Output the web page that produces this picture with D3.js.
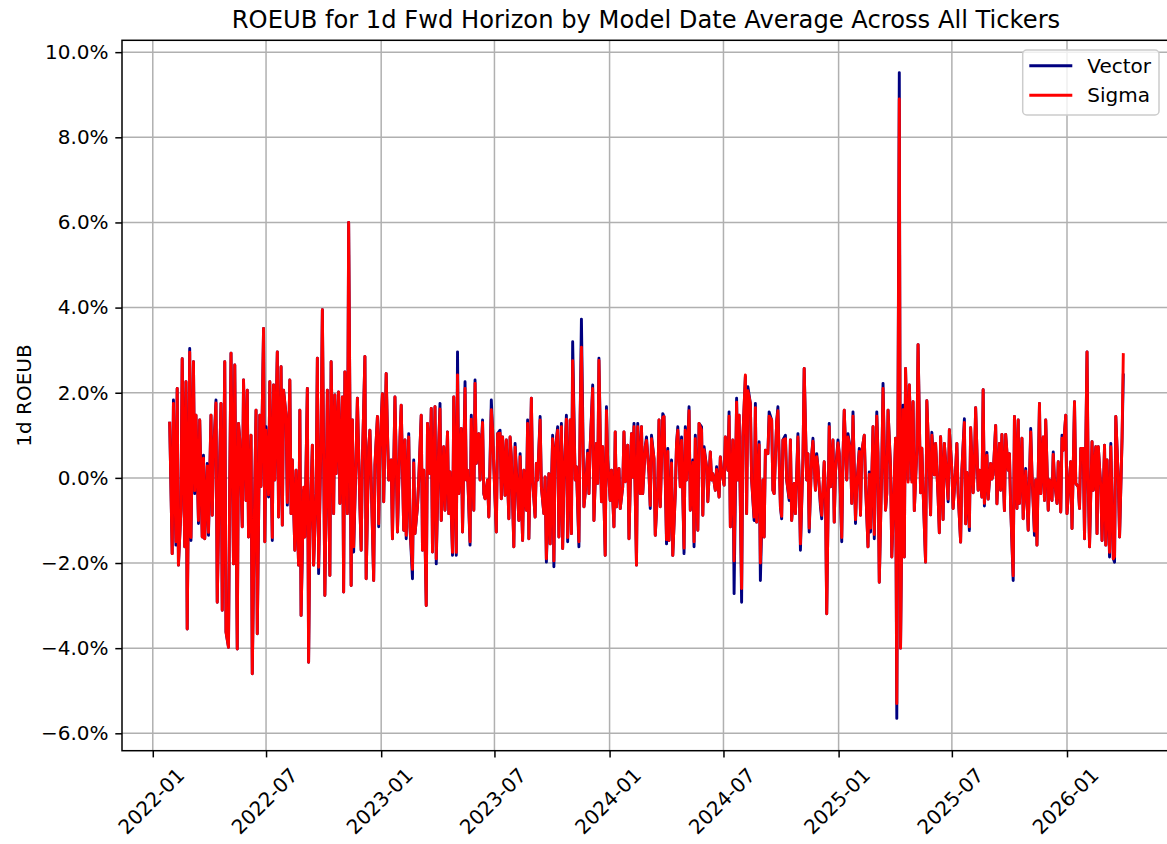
<!DOCTYPE html>
<html>
<head>
<meta charset="utf-8">
<script src="https://cdn.jsdelivr.net/npm/d3@7"></script>
<style>
  body { margin: 0; background: #fff; }
  text { font-family: "DejaVu Sans", sans-serif; fill: #000; }
</style>
</head>
<body>
<div id="chart"></div>
<script>
// 1d ROEUB in percent, one value every 2 business days starting 2022-01-28
// Vector, in 8 stretches
var vector1 = [1.32,-1.78,1.83,-1.58,2.10,-2.05,-0.76,2.80,-1.62,2.26,-3.55,3.04,-1.47,2.73,-0.37,1.47,-1.07,1.36,-1.39,0.53,-1.43,0.34,-1.35,1.47,-0.88,0.55,1.83,-2.92,0.49,1.75,-3.11,2.73,-3.62,-3.98,-0.05,2.93,-2.02,2.65,-4.02,1.28,0.90,-1.15,2.30,-0.53,2.06,-1.39,1.00,-4.60,-0.21,1.59,-3.66,1.47,-0.20,3.51,-1.50,1.20,-0.45,2.26,-1.47,2.18,-0.05,2.96,-0.92,2.61,-1.11,2.06,1.47,-0.64,2.30,-0.84,0.42];
var vector2 = [-1.70,0.18,-2.05,1.59,-3.23,-0.29,-1.39,2.10,-4.33,-1.31,0.77,-2.05,-0.37,2.81,-2.25,1.12,3.95,-2.76,-0.53,2.06,-2.29,2.73,-0.84,1.95,0.10,2.02,-0.60,1.90,-2.68,2.49,-0.84,6.00,-2.53,1.36,-1.74,0.57,1.87,-0.68,-1.70,0.42,2.85,-2.37,0.73,1.12,-0.05,-2.41,0.30,1.44,-1.15,0.65,1.98,-0.56,2.45,1.08,-0.05,0.42,-1.43,1.90,0.45,-1.27,0.93,1.71,-1.23,0.89,-1.43,1.04,-1.15,-2.37,0.42,-1.31,-0.68];
var vector3 = [-0.05,1.47,-1.70,0.18,-3.00,1.28,0.10,1.63,-1.74,1.67,-2.02,0.81,1.75,-1.00,0.73,-0.76,1.08,-0.84,0.14,-1.82,1.90,-1.82,2.96,-0.37,1.16,-1.27,2.26,-0.05,0.18,-1.58,1.47,-0.76,2.30,0.34,1.04,-0.05,1.36,-0.37,-0.49,-0.05,-0.92,1.83,1.16,0.26,-1.27,1.04,1.12,-0.49,0.96,-0.41,0.89,-0.96,0.96,0.49,-1.62,0.81,-0.37,-1.00,0.57,-1.47,0.18,-0.76,1.36,-1.43,1.87,-0.05,-0.92,0.34,-0.05,1.44,-0.21];
var vector4 = [-0.84,0.02,-1.98,0.10,-1.55,1.00,-2.09,0.61,1.20,-1.39,1.28,-1.66,-0.05,1.47,-1.50,1.36,-1.31,3.20,-0.05,0.26,-1.62,1.47,3.73,-0.68,-0.37,0.65,-0.37,0.73,2.18,-1.00,0.81,-0.13,2.81,-0.56,0.73,-1.82,1.67,0.42,-0.53,0.18,-1.15,1.08,-0.68,0.22,-0.72,-0.21,1.08,-0.09,0.77,-1.43,1.04,0.02,1.28,-2.05,1.28,-0.37,1.20,-0.37,0.73,0.96,0.10,-0.72,1.00,0.45,-1.35,-0.21,1.36,-0.68,1.51,1.44,-1.55];
var vector5 = [0.69,-1.47,0.42,-1.82,-0.37,0.81,1.20,-0.21,0.96,-1.78,1.20,-0.05,1.67,-0.76,0.42,-1.62,1.00,-1.23,1.28,1.20,-0.88,0.73,0.26,-0.56,0.61,-0.05,0.10,-0.29,0.26,-0.45,0.49,0.18,-0.17,0.96,0.18,1.55,-1.15,0.89,-2.72,1.87,-0.05,1.47,-2.92,0.96,2.38,-0.84,2.14,1.75,-0.05,-1.00,1.75,-1.04,0.85,-2.41,-0.05,-1.39,0.65,0.57,1.55,1.36,-0.29,-0.37,1.32,1.67,-0.68,-0.96,0.89,1.00,-0.05,-0.53,0.89];
var vector6 = [-1.00,-0.13,-0.84,1.04,-0.05,-1.70,0.42,2.57,-0.05,0.57,-1.27,0.53,0.93,-0.29,0.57,0.26,-0.68,-0.96,0.38,-0.37,-3.19,1.28,-0.21,0.89,-1.04,0.14,0.89,0.57,-1.50,0.49,1.59,-0.05,1.04,0.65,-0.60,1.55,-1.07,-0.21,0.69,-0.88,0.61,1.00,-0.13,-1.62,0.14,-1.27,1.20,-1.43,1.55,0.57,-2.45,0.26,2.22,-0.76,-0.37,1.59,0.26,-1.86,-0.05,0.93,-5.65,9.52,-4.00,1.71,-1.86,2.57,-0.05,2.18,-0.05,1.79];
var vector7 = [-0.77,0.65,3.13,-0.35,0.70,-0.29,-1.98,1.81,0.18,-0.87,1.07,0.07,0.81,-0.45,-1.29,0.97,-0.98,0.81,-0.03,-0.56,1.13,0.18,-0.72,0.18,0.81,-0.35,-1.51,0.18,1.39,-1.08,0.13,-1.24,1.18,-0.35,0.28,1.65,-0.29,0.18,-0.45,2.07,-0.66,0.60,-0.50,0.34,-0.03,0.07,1.23,-0.61,0.81,-0.29,1.02,-0.77,1.02,0.18];
var vector8 = [0.57,-0.68,-2.41,1.44,-0.72,1.36,-0.60,0.93,-0.96,0.22,-0.45,-1.23,1.16,0.10,-1.35,-0.05,-1.58,1.75,-0.37,0.96,-0.53,1.36,-0.76,-0.05,-0.53,0.61,-0.05,-0.60,0.38,-0.80,1.00,0.65,1.47,-0.84,0.02,0.38,-1.19,1.79,-0.13,-0.21,-0.72,0.69,0.69,-1.43,2.96,-0.21,-1.62,0.85,-0.29,0.73,-1.31,0.73,-0.21,-1.47,0.77,-1.58,0.42,-1.86,0.81,-1.90,-1.98,1.44,-0.05,-1.39,0.93,2.45];

// Sigma, same dates
var sigma1 = [1.32,-1.78,1.75,-1.50,2.10,-2.05,-0.76,2.80,-1.62,2.26,-3.55,2.95,-1.40,2.73,-0.30,1.47,-1.00,1.36,-1.39,0.46,-1.43,0.28,-1.28,1.47,-0.88,0.55,1.76,-2.92,0.42,1.75,-3.11,2.73,-3.62,-3.98,-0.05,2.93,-2.02,2.65,-4.02,1.28,0.90,-1.15,2.30,-0.53,2.06,-1.39,1.00,-4.60,-0.21,1.59,-3.66,1.47,-0.20,3.51,-1.50,1.12,-0.40,2.26,-1.40,2.18,-0.05,2.96,-0.92,2.61,-1.11,2.06,1.47,-0.58,2.30,-0.84,0.42];
var sigma2 = [-1.70,0.18,-2.05,1.59,-3.23,-0.22,-1.39,2.10,-4.33,-1.31,0.77,-2.05,-0.37,2.81,-2.10,1.12,3.95,-2.76,-0.53,2.06,-2.29,2.73,-0.84,1.95,0.10,2.02,-0.60,1.90,-2.68,2.49,-0.84,6.00,-2.53,1.36,-1.62,0.57,1.87,-0.68,-1.70,0.42,2.85,-2.37,0.73,1.12,-0.05,-2.41,0.30,1.44,-1.08,0.65,1.98,-0.56,2.45,1.08,-0.05,0.42,-1.43,1.90,0.45,-1.27,0.93,1.71,-1.23,0.89,-1.35,0.96,-1.15,-2.15,0.35,-1.31,-0.68];
var sigma3 = [-0.05,1.47,-1.70,0.18,-3.00,1.28,0.10,1.63,-1.74,1.67,-1.90,0.81,1.62,-1.00,0.73,-0.76,1.08,-0.84,0.14,-1.75,1.90,-1.75,2.42,-0.37,1.16,-1.27,2.10,-0.05,0.18,-1.50,1.38,-0.76,2.22,0.34,1.04,-0.05,1.30,-0.37,-0.49,-0.05,-0.92,1.60,1.16,0.26,-1.27,1.04,1.05,-0.49,0.96,-0.41,0.89,-0.96,0.96,0.49,-1.62,0.72,-0.37,-1.00,0.50,-1.47,0.18,-0.76,1.28,-1.43,1.87,-0.05,-0.92,0.34,-0.05,1.36,-0.21];
var sigma4 = [-0.84,0.02,-1.90,0.10,-1.55,0.92,-1.95,0.61,1.12,-1.39,1.20,-1.66,-0.05,1.38,-1.40,1.36,-1.31,2.75,-0.05,0.26,-1.50,1.47,3.07,-0.68,-0.37,0.58,-0.37,0.73,2.10,-1.00,0.81,-0.13,2.76,-0.56,0.73,-1.82,1.58,0.42,-0.53,0.18,-1.15,1.08,-0.68,0.22,-0.72,-0.21,1.08,-0.09,0.77,-1.43,1.04,0.02,1.20,-2.05,1.20,-0.37,1.20,-0.37,0.73,0.88,0.10,-0.65,0.92,0.45,-1.35,-0.21,1.36,-0.68,1.42,1.44,-1.45];
var sigma5 = [0.62,-1.47,0.35,-1.82,-0.37,0.81,1.12,-0.21,0.88,-1.65,1.12,-0.05,1.58,-0.76,0.36,-1.50,0.92,-1.23,1.28,1.12,-0.88,0.66,0.26,-0.56,0.61,-0.05,0.10,-0.29,0.20,-0.45,0.49,0.18,-0.17,0.96,0.18,1.45,-1.15,0.89,-1.95,1.78,-0.05,1.47,-2.60,0.96,2.42,-0.84,2.05,1.75,-0.05,-0.92,1.65,-1.04,0.78,-2.00,-0.05,-1.39,0.65,0.57,1.45,1.36,-0.29,-0.37,1.32,1.58,-0.68,-0.90,0.89,0.92,-0.05,-0.47,0.89];
var sigma6 = [-1.00,-0.13,-0.84,0.96,-0.05,-1.55,0.42,2.57,-0.05,0.57,-1.18,0.53,0.86,-0.29,0.50,0.26,-0.60,-0.88,0.38,-0.37,-3.19,1.20,-0.21,0.89,-1.04,0.14,0.82,0.57,-1.40,0.49,1.59,-0.05,0.96,0.65,-0.60,1.45,-0.98,-0.21,0.62,-0.88,0.61,1.00,-0.13,-1.62,0.08,-1.18,1.20,-1.33,1.45,0.50,-2.45,0.26,2.10,-0.76,-0.37,1.59,0.26,-1.86,-0.05,0.93,-5.30,8.90,-4.00,1.60,-1.86,2.57,-0.10,2.18,-0.10,1.79];
var sigma7 = [-0.77,0.65,3.13,-0.35,0.70,-0.29,-1.98,1.81,0.18,-0.87,1.00,0.07,0.81,-0.45,-1.29,0.97,-0.98,0.81,-0.03,-0.50,1.13,0.18,-0.72,0.18,0.81,-0.35,-1.51,0.18,1.30,-1.08,0.13,-1.15,1.18,-0.35,0.28,1.65,-0.29,0.18,-0.45,2.07,-0.60,0.53,-0.50,0.34,-0.03,0.07,1.23,-0.61,0.81,-0.29,1.02,-0.77,1.02,0.18];
var sigma8 = [0.57,-0.68,-2.30,1.44,-0.72,1.36,-0.60,0.93,-0.96,0.16,-0.45,-1.23,1.08,0.10,-1.25,-0.05,-1.58,1.75,-0.37,0.96,-0.53,1.36,-0.76,-0.05,-0.53,0.55,-0.05,-0.60,0.38,-0.80,0.93,0.65,1.47,-0.84,0.02,0.38,-1.19,1.79,-0.13,-0.21,-0.72,0.69,0.69,-1.43,2.96,-0.21,-1.62,0.85,-0.29,0.73,-1.31,0.73,-0.21,-1.47,0.77,-1.58,0.42,-1.75,0.73,-1.90,-1.85,1.44,-0.05,-1.39,0.93,2.93];

var firstDate = new Date(2022, 0, 28);
var stepBusinessDays = 2;
var yTicks = [-6, -4, -2, 0, 2, 4, 6, 8, 10];
var seriesNames = ["Vector", "Sigma"];
var seriesColors = ["#000080", "#ff0000"];
var chartTitle = "ROEUB for 1d Fwd Horizon by Model Date Average Across All Tickers";
var yLabel = "1d ROEUB";

var vector = [].concat(vector1, vector2, vector3, vector4, vector5, vector6, vector7, vector8);
var sigma = [].concat(sigma1, sigma2, sigma3, sigma4, sigma5, sigma6, sigma7, sigma8);

// model dates: business days
var dates = [];
var d = new Date(firstDate);
for (var i = 0; i < vector.length; i++) {
  dates.push(new Date(d));
  var n = 0;
  while (n < stepBusinessDays) {
    d.setDate(d.getDate() + 1);
    if (d.getDay() != 0 && d.getDay() != 6) n++;
  }
}

var series = [vector, sigma].map(function(vals, k) {
  return { name: seriesNames[k], color: seriesColors[k],
    points: vals.map(function(v, j) { return { date: dates[j], value: v }; }) };
});

var W = 1167, H = 844;
var margin = {top: 40.3, left: 122, right: -4, bottom: 93.3};
var width = W - margin.left - margin.right,
    height = H - margin.top - margin.bottom;

var svg = d3.select("#chart").append("svg")
    .attr("width", W).attr("height", H);

var g = svg.append("g")
    .attr("transform", "translate(" + margin.left + "," + margin.top + ")");

// matplotlib style 5% margins
var xExt = d3.extent(dates);
var xPad = (xExt[1] - xExt[0]) * 0.05;
var x = d3.scaleTime()
    .domain([new Date(+xExt[0] - xPad), new Date(+xExt[1] + xPad)])
    .range([0, width]);

var allVals = vector.concat(sigma);
var yMin = d3.min(allVals), yMax = d3.max(allVals);
var yPad = (yMax - yMin) * 0.05;
var y = d3.scaleLinear()
    .domain([yMin - yPad, yMax + yPad])
    .range([height, 0]);

var xTicks = x.ticks(d3.timeMonth.every(6)).filter(function(t) { return t.getMonth() % 6 == 0; });

// grid
var grid = g.append("g").attr("class", "grid");
grid.selectAll("line.gx").data(xTicks).enter().append("line")
    .attr("x1", function(t) { return x(t); }).attr("x2", function(t) { return x(t); })
    .attr("y1", 0).attr("y2", height)
    .attr("stroke", "#b0b0b0").attr("stroke-width", 1.5);
grid.selectAll("line.gy").data(yTicks).enter().append("line")
    .attr("x1", 0).attr("x2", width)
    .attr("y1", function(t) { return y(t); }).attr("y2", function(t) { return y(t); })
    .attr("stroke", "#b0b0b0").attr("stroke-width", 1.5);

// lines
var line = d3.line()
    .x(function(p) { return x(p.date); })
    .y(function(p) { return y(p.value); });

g.selectAll("path.series").data(series).enter().append("path")
    .attr("class", "series")
    .attr("d", function(s) { return line(s.points); })
    .attr("fill", "none")
    .attr("stroke", function(s) { return s.color; })
    .attr("stroke-width", 2.9)
    .attr("stroke-linejoin", "round");

// spines
g.append("rect")
    .attr("x", 0).attr("y", 0).attr("width", width).attr("height", height)
    .attr("fill", "none").attr("stroke", "#000").attr("stroke-width", 1.5);

// axes
var tickLen = 6.7, tickPad = 6.7, tickFont = 20;
var xAxis = g.append("g")
    .attr("transform", "translate(0," + height + ")")
    .call(d3.axisBottom(x).tickValues(xTicks).tickFormat(d3.timeFormat("%Y-%m"))
      .tickSize(tickLen).tickPadding(tickPad));
xAxis.select(".domain").remove();
xAxis.selectAll(".tick line").attr("stroke", "#000").attr("stroke-width", 1.5);
xAxis.selectAll(".tick text")
    .attr("font-size", tickFont)
    .attr("text-anchor", "middle")
    .attr("dy", null)
    .attr("y", 0)
    .attr("dominant-baseline", "central")
    .attr("transform", "translate(-2," + (tickLen + tickPad + 37) + ") rotate(-45)");

var yAxis = g.append("g")
    .call(d3.axisLeft(y).tickValues(yTicks)
      .tickFormat(function(t) { return (t < 0 ? "\u2212" : "") + Math.abs(t).toFixed(1) + "%"; })
      .tickSize(tickLen).tickPadding(tickPad));
yAxis.select(".domain").remove();
yAxis.selectAll(".tick line").attr("stroke", "#000").attr("stroke-width", 1.5);
yAxis.selectAll(".tick text").attr("font-size", tickFont);

// labels
svg.append("text")
    .attr("x", 646).attr("y", 27.5)
    .attr("text-anchor", "middle")
    .attr("font-size", 24.2)
    .text(chartTitle);

svg.append("text")
    .attr("transform", "translate(31," + (margin.top + height / 2) + ") rotate(-90)")
    .attr("text-anchor", "middle")
    .attr("font-size", tickFont)
    .text(yLabel);

// legend
var legend = svg.append("g").attr("transform", "translate(1022.7,50)");
legend.append("rect")
    .attr("width", 136.3).attr("height", 65).attr("rx", 4)
    .attr("fill", "#fff").attr("fill-opacity", 0.8)
    .attr("stroke", "#cccccc").attr("stroke-width", 1.5);
var item = legend.selectAll("g.item").data(series).enter().append("g")
    .attr("transform", function(s, k) { return "translate(0," + (15.7 + k * 29.6) + ")"; });
item.append("line")
    .attr("x1", 6.6).attr("x2", 49.6)
    .attr("stroke", function(s) { return s.color; })
    .attr("stroke-width", 2.9);
item.append("text")
    .attr("x", 64.6).attr("y", 0)
    .attr("dominant-baseline", "central")
    .attr("font-size", tickFont)
    .text(function(s) { return s.name; });
</script>
</body>
</html>
